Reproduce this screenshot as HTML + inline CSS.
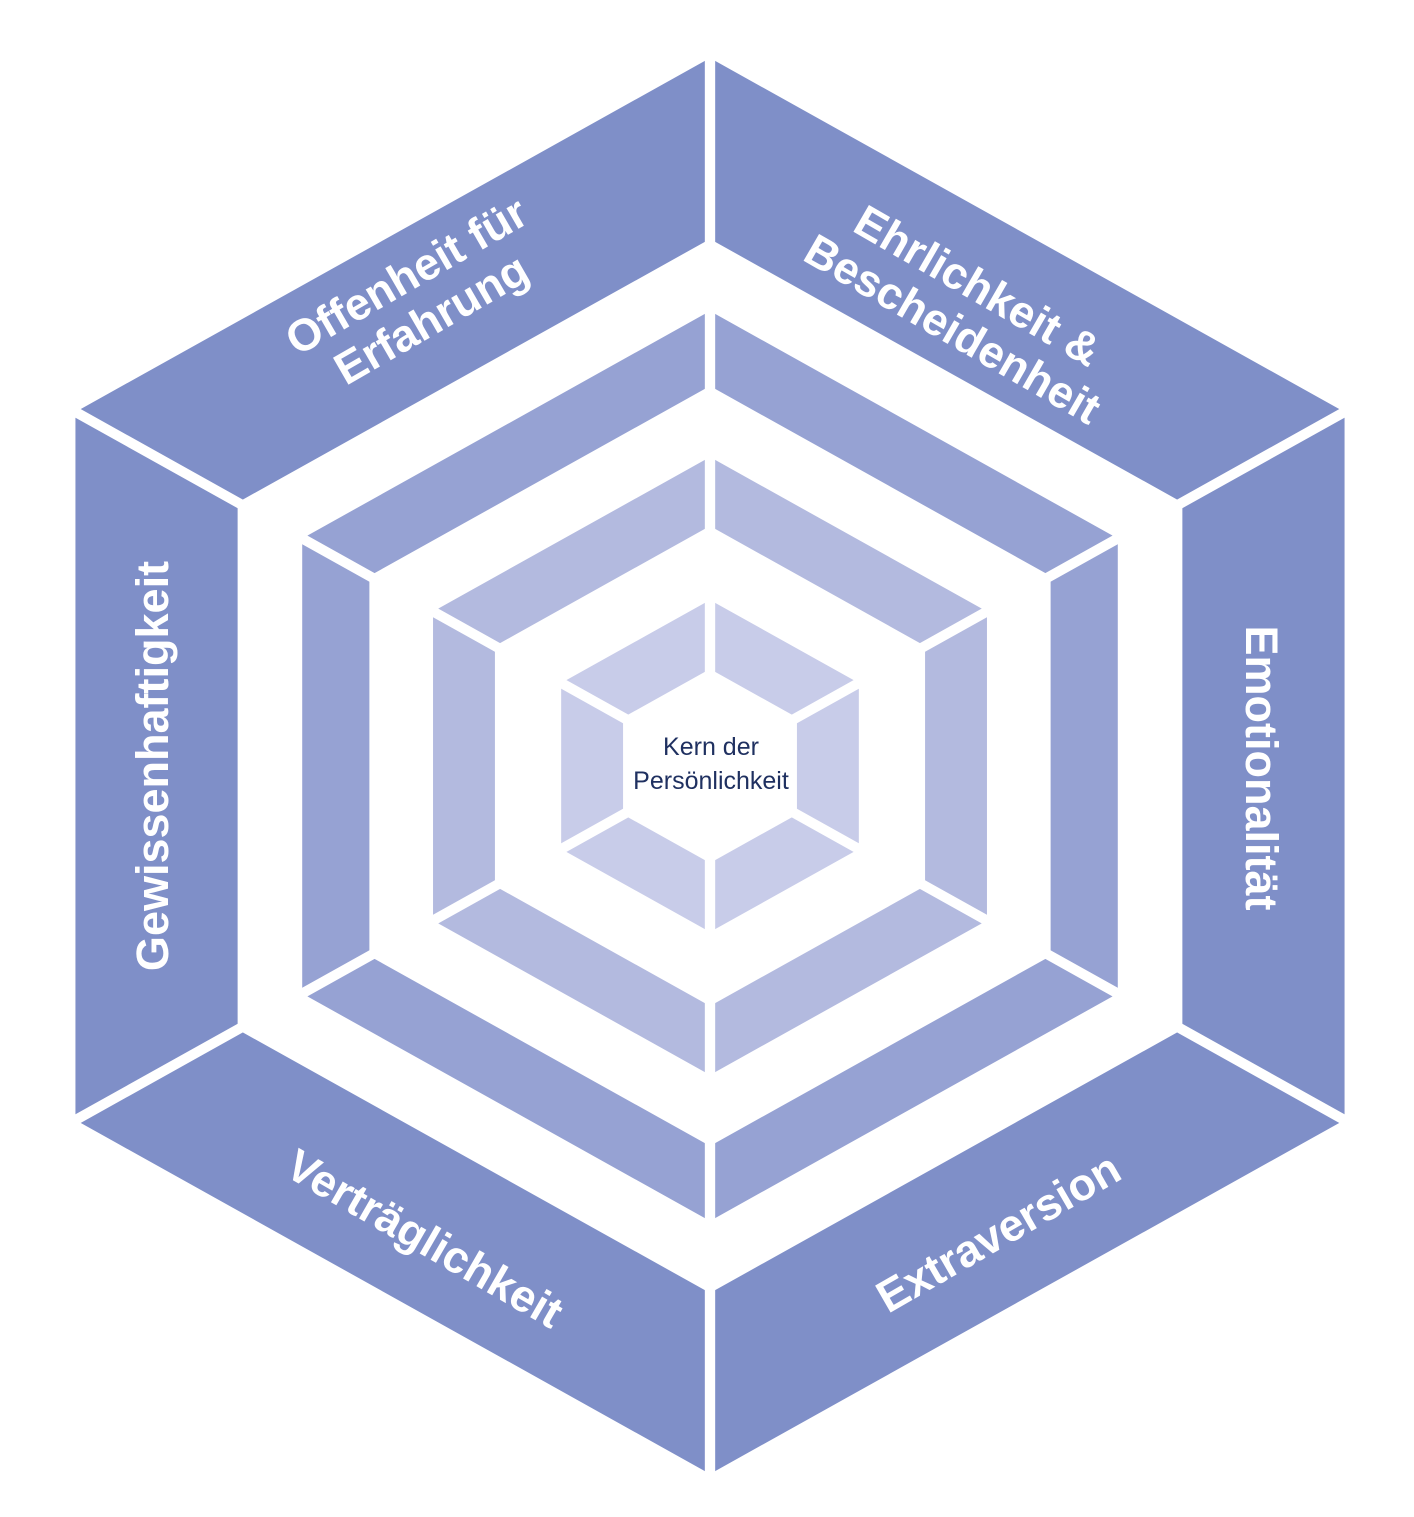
<!DOCTYPE html>
<html><head><meta charset="utf-8"><style>
html,body{margin:0;padding:0;background:#fff;}
svg{display:block;}
text{font-family:"Liberation Sans",sans-serif;}
</style></head><body>
<svg width="1414" height="1517" viewBox="0 0 1414 1517" xmlns="http://www.w3.org/2000/svg">
<g transform="translate(710,766) scale(1.035,1)">
<path fill="#7f8fc8" fill-rule="evenodd" d="M0,-708 L613.1,-354 L613.1,354 L0,708 L-613.1,354 L-613.1,-354 Z M0,-527 L456.4,-263.5 L456.4,263.5 L0,527 L-456.4,263.5 L-456.4,-263.5 Z"/>
<path fill="#96a2d3" fill-rule="evenodd" d="M0,-455 L394,-227.5 L394,227.5 L0,455 L-394,227.5 L-394,-227.5 Z M0,-380 L329.1,-190 L329.1,190 L0,380 L-329.1,190 L-329.1,-190 Z"/>
<path fill="#b3badf" fill-rule="evenodd" d="M0,-309 L267.6,-154.5 L267.6,154.5 L0,309 L-267.6,154.5 L-267.6,-154.5 Z M0,-240 L207.8,-120 L207.8,120 L0,240 L-207.8,120 L-207.8,-120 Z"/>
<path fill="#c8cce9" fill-rule="evenodd" d="M0,-166 L143.8,-83 L143.8,83 L0,166 L-143.8,83 L-143.8,-83 Z M0,-97 L84,-48.5 L84,48.5 L0,97 L-84,48.5 L-84,-48.5 Z"/>
<g stroke="#fff" stroke-width="10">
<line x1="0" y1="-730" x2="0" y2="730"/>
<line x1="632" y1="-365" x2="-632" y2="365"/>
<line x1="632" y1="365" x2="-632" y2="-365"/>
</g>
</g>
<g fill="#fff" font-weight="bold" font-size="45" text-anchor="middle">
<text transform="translate(418,296) rotate(-30)"><tspan x="0" y="-8">Offenheit für</tspan><tspan x="0" y="42">Erfahrung</tspan></text>
<text transform="translate(966,306) rotate(30)"><tspan x="0" y="-8">Ehrlichkeit &amp;</tspan><tspan x="0" y="42">Bescheidenheit</tspan></text>
<text transform="translate(1262,768) rotate(90)" y="16">Emotionalität</text>
<text transform="translate(998,1232) rotate(-30)" y="16">Extraversion</text>
<text transform="translate(425,1238) rotate(30)" y="16">Verträglichkeit</text>
<text transform="translate(152,766) rotate(-90)" y="16">Gewissenhaftigkeit</text>
</g>
<g fill="#1f3060" font-size="25" text-anchor="middle">
<text x="711" y="755">Kern der</text>
<text x="711" y="789">Persönlichkeit</text>
</g>
</svg>
</body></html>
